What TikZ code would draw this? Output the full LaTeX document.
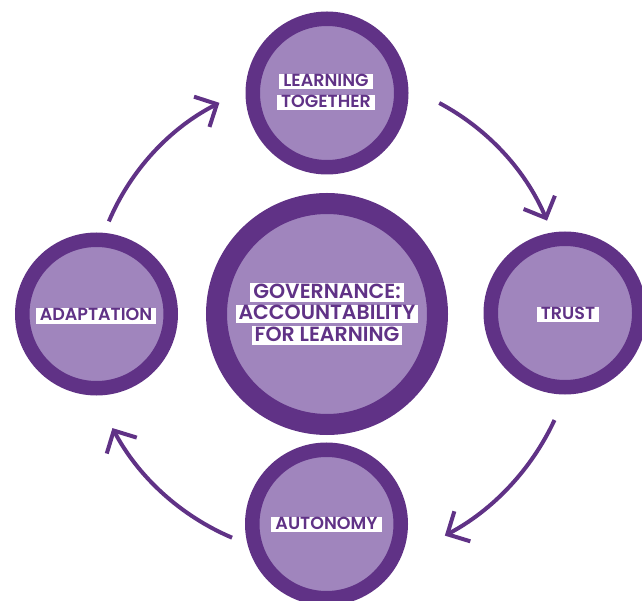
\documentclass[tikz,border=0pt]{standalone}
\usepackage{fontspec}
\newfontfamily\labfont{Poppins}[BoldFont={Poppins SemiBold}]
\usetikzlibrary{arrows.meta}
\definecolor{darkp}{RGB}{96,50,134}
\definecolor{lightp}{RGB}{160,133,189}
\setlength{\fboxsep}{0pt}
\newcommand{\wb}[1]{\colorbox{white}{\hspace{4pt}\rule[-2.8pt]{0pt}{15.2pt}#1\hspace{4pt}}}
\newcommand{\wbb}[1]{\colorbox{white}{\hspace{3pt}\rule[-3.2pt]{0pt}{18.4pt}#1\hspace{3pt}}}
\begin{document}
\begin{tikzpicture}[x=1pt,y=1pt,
  ring/.style={circle, draw=darkp, fill=lightp, line width=14.5pt, minimum size=148.5pt, inner sep=0pt},
  bigring/.style={circle, draw=darkp, fill=lightp, line width=21pt, minimum size=221pt, inner sep=0pt},
  lab/.style={align=center, text=darkp, font=\labfont\bfseries\fontsize{17.5}{20.5}\selectfont, inner sep=0pt},
  biglab/.style={align=center, text=darkp, font=\labfont\bfseries\fontsize{20.5}{21.4}\selectfont, inner sep=0pt},
  cyc/.style={draw=darkp, line width=4pt, -{Straight Barb[length=17pt, width=34pt]}}
]
\useasboundingbox (0,0) rectangle (642,600);
\node[bigring] (G) at (327,286) {};
\node[ring] (L) at (327,507) {};
\node[ring] (T) at (565,287) {};
\node[ring] (U) at (326.5,76) {};
\node[ring] (A) at (96.5,286) {};

\node[biglab] (Gt) at (327,286) {\wbb{GOVERNANCE:}\\\wbb{ACCOUNTABILITY}\\\wbb{FOR LEARNING}};
\node[lab] (Lt) at (326,508) {\wb{LEARNING}\\\wb{TOGETHER}};
\node[lab] (Tt) at (568,285.5) {\wb{TRUST}};
\node[lab] (Ut) at (326.5,75.5) {\wb{AUTONOMY}};
\node[lab] (At) at (96,284) {\wb{ADAPTATION}};

\draw[cyc] ([shift={(62:239pt)}]G.center) arc[start angle=62, end angle=23, radius=239pt];
\draw[cyc] ([shift={(-25:251pt)}]G.center) arc[start angle=-25, end angle=-62, radius=251pt];
\draw[cyc] ([shift={(-113:243pt)}]G.center) arc[start angle=-113, end angle=-152, radius=243pt];
\draw[cyc] ([shift={(157:237pt)}]G.center) arc[start angle=157, end angle=117, radius=237pt];
\end{tikzpicture}
\end{document}
